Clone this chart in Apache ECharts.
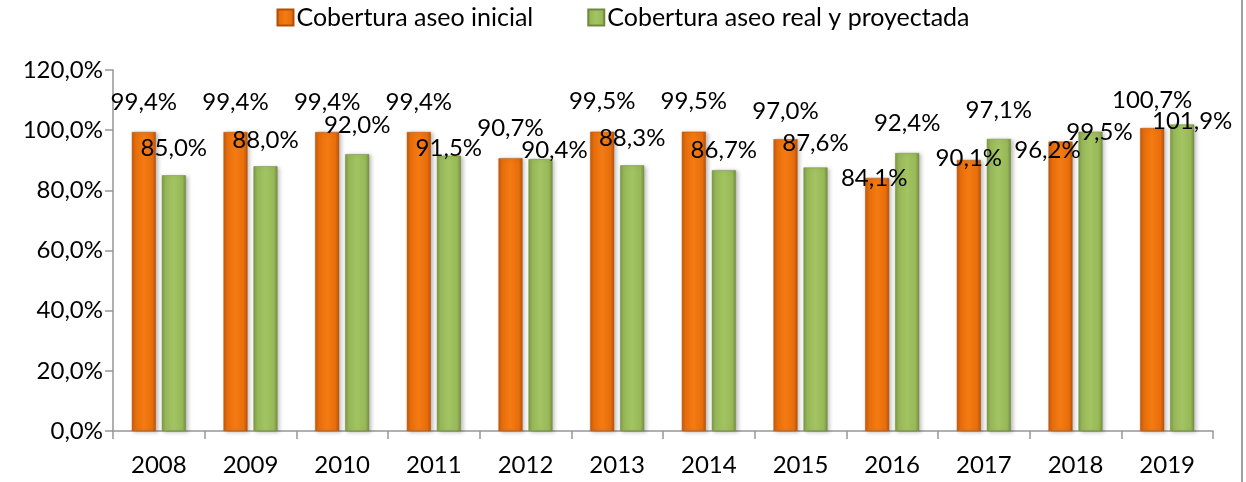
<!DOCTYPE html>
<html>
<head>
<meta charset="utf-8">
<script src="https://cdn.jsdelivr.net/npm/echarts@6/dist/echarts.min.js"></script>
<style>
html,body{margin:0;padding:0;background:#fff;}
#chart{width:1246px;height:482px;}
#border{position:absolute;left:1241px;top:0;width:2px;height:482px;background:#a0a0a0;}
</style>
</head>
<body>
<div id="chart"></div>
<div id="border"></div>
<script>
const years = ['2008','2009','2010','2011','2012','2013','2014','2015','2016','2017','2018','2019'];
const seriesNames = ['Cobertura aseo inicial', 'Cobertura aseo real y proyectada'];
const inicial = [99.4, 99.4, 99.4, 99.4, 90.7, 99.5, 99.5, 97.0, 84.1, 90.1, 96.2, 100.7];
const realProyectada = [85.0, 88.0, 92.0, 91.5, 90.4, 88.3, 86.7, 87.6, 92.4, 97.1, 99.5, 101.9];

// label nudges (dx, dy) in pixels, mimicking the manually placed data labels
const nudgeInicial = [[0,-18],[0,-18],[0,-18],[0,-18],[0,-18],[0,-18],[0,-18],[0,-16],[-3,12],[0,10],[-13,21],[0,-16]];
const nudgeReal = [[0,-15],[0,-14],[0,-17],[0,5],[14,3],[0,-15],[0,-8],[0,-12],[0,-18],[0,-17],[9,13],[10,9]];

const FONT = 'Lato';
const FS = 24;

function fmt(v){ return v.toFixed(1).replace('.', ',') + '%'; }

const orangeGrad = new echarts.graphic.LinearGradient(0,0,1,0,[
  {offset:0,color:'#c65a08'},{offset:0.15,color:'#e86e0c'},{offset:0.5,color:'#f47a12'},{offset:0.85,color:'#e86e0c'},{offset:1,color:'#b85206'}
]);
const greenGrad = new echarts.graphic.LinearGradient(0,0,1,0,[
  {offset:0,color:'#7e9a44'},{offset:0.15,color:'#98b858'},{offset:0.5,color:'#a3c463'},{offset:0.85,color:'#98b858'},{offset:1,color:'#768f40'}
]);

function buildData(vals, nudges){
  return vals.map((v,i)=>({
    value: v,
    label: { offset: nudges[i] }
  }));
}

const chart = echarts.init(document.getElementById('chart'), null, {renderer:'canvas'});
chart.setOption({
  animation: false,
  backgroundColor: '#ffffff',
  textStyle: { fontFamily: FONT },
  legend: {
    top: 0,
    left: 'center',
    itemWidth: 16,
    itemHeight: 16,
    itemGap: 54,
    icon: 'rect',
    textStyle: { fontFamily: FONT, fontSize: 25, color: '#000', padding:[0,0,0,-2] },
    data: seriesNames
  },
  grid: { left: 113, right: 33, top: 70, bottom: 51, containLabel: false },
  xAxis: {
    type: 'category',
    data: years,
    axisLine: { lineStyle: { color: '#969696', width: 1.5 } },
    axisTick: { show: true, length: 8, lineStyle: { color: '#969696', width: 1.5 }, alignWithLabel: false },
    axisLabel: { fontFamily: FONT, fontSize: FS, color: '#000', margin: 22 },
    splitLine: { show: false }
  },
  yAxis: {
    type: 'value',
    min: 0,
    max: 120,
    interval: 20,
    axisLine: { show: true, lineStyle: { color: '#969696', width: 1.5 } },
    axisTick: { show: true, length: 8, lineStyle: { color: '#969696', width: 1.5 } },
    axisLabel: { fontFamily: FONT, fontSize: FS, color: '#000', margin: 10,
      formatter: v => v.toFixed(1).replace('.', ',') + '%' },
    splitLine: { show: false }
  },
  series: [
    {
      name: seriesNames[0],
      type: 'bar',
      barWidth: 24,
      barGap: '25%',
      data: buildData(inicial, nudgeInicial),
      itemStyle: { color: orangeGrad, borderColor: '#b0500a', borderWidth: 0.5,
        shadowColor: 'rgba(0,0,0,0.25)', shadowBlur: 4, shadowOffsetX: 2, shadowOffsetY: 1 },
      label: { show: true, position: 'top', distance: 0, fontFamily: FONT, fontSize: FS, color: '#000',
        formatter: p => fmt(p.value) }
    },
    {
      name: seriesNames[1],
      type: 'bar',
      barWidth: 24,
      barGap: '25%',
      data: buildData(realProyectada, nudgeReal),
      itemStyle: { color: greenGrad, borderColor: '#6f8a3c', borderWidth: 0.5,
        shadowColor: 'rgba(0,0,0,0.25)', shadowBlur: 4, shadowOffsetX: 2, shadowOffsetY: 1 },
      label: { show: true, position: 'top', distance: 0, fontFamily: FONT, fontSize: FS, color: '#000',
        formatter: p => fmt(p.value) }
    }
  ]
});
</script>
</body>
</html>
